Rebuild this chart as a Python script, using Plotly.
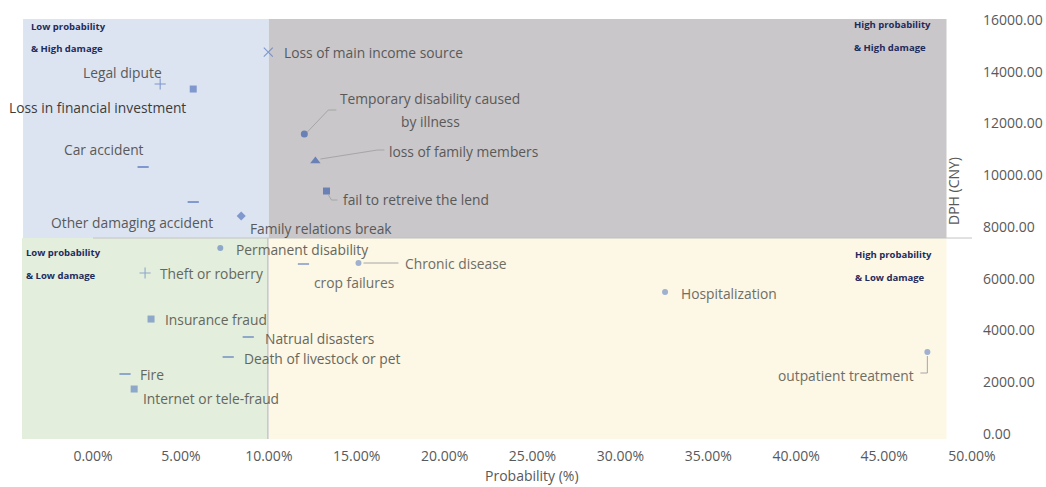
import plotly.graph_objects as go

# ---------------- data ----------------
risk_names = [
    "Loss of main income source", "Legal dipute", "Loss in financial investment",
    "Car accident", "Other damaging accident", "Family relations break",
    "Temporary disability caused<br>by illness", "loss of family members",
    "fail to retreive the lend", "Permanent disability", "Theft or roberry",
    "crop failures", "Chronic disease", "Hospitalization", "outpatient treatment",
    "Insurance fraud", "Natrual disasters", "Death of livestock or pet", "Fire",
    "Internet or tele-fraud",
]
probability = [
    0.0997, 0.0382, 0.0570, 0.0285, 0.0570, 0.0843, 0.1202, 0.1265, 0.1328,
    0.0724, 0.0296, 0.1197, 0.1510, 0.3254, 0.4746, 0.0330, 0.0883, 0.0769,
    0.0182, 0.0234,
]
dph_cny = [
    14763, 13527, 13333, 10319, 8966, 8425, 11594, 10551, 9391,
    7188, 6222, 6570, 6609, 5488, 3169, 4444, 3749, 2976, 2319, 1739,
]
x_ticks = [0, 0.05, 0.10, 0.15, 0.20, 0.25, 0.30, 0.35, 0.40, 0.45, 0.50]
y_ticks = [0, 2000, 4000, 6000, 8000, 10000, 12000, 14000, 16000]
quadrant_titles = [
    "Low probability", "& High damage", "High probability", "& High damage",
    "Low probability", "& Low damage", "High probability", "& Low damage",
]
DIV_X = 0.10
DIV_Y = 7575

# ---------------- styling / layout ----------------
W, H = 1046, 487
ML, MR, MT, MB = 22, 74, 19, 48
X_RANGE = [-0.0404, 0.5]
Y_RANGE = [-193, 16040]
Q_RIGHT = 0.4855
FONT = "Open Sans"
LABEL_SIZE = 13.8

symbols = [
    "x-thin-open", "cross-thin-open", "square", "line-ew-open", "line-ew-open",
    "diamond", "circle", "triangle-up", "square", "circle", "cross-thin-open",
    "line-ew-open", "circle", "circle", "circle", "square", "line-ew-open",
    "line-ew-open", "line-ew-open", "square",
]
sizes = [9, 8, 7, 8, 8, 7, 7, 9, 7, 6, 8, 8, 6, 6, 6, 7, 8, 8, 8, 7]

# label placement: (anchor, dx px, dy px (down positive))
label_pos = [
    ("left", 14, 0), ("center", -38, -12), ("right", -5, 18), ("center", -39, -18),
    ("right", 22, 20), ("left", 7, 12), ("center", 126, -24), ("left", 72, -10),
    ("left", 15, 8), ("left", 14, 1), ("left", 13, 0), ("left", 9, 18),
    ("left", 45, 0), ("left", 14, 1), ("right", -11, 23), ("left", 12, 0),
    ("left", 15, 1), ("left", 14, 1), ("left", 13, 0), ("left", 7, 9),
]
# leader line paths (pixels relative to the marker, y up)
leaders = {
    6: "M 3,2 L 24,24 L 32,24",
    7: "M 5,2 L 62,11 L 69,11",
    8: "M 2,-4 L 5,-9 L 11,-9",
    12: "M 5,0 L 40,0",
    14: "M 0,-4 L 0,-21 L -7,-21",
}


def quadrant(x, y):
    if y >= DIV_Y:
        return "TL" if x < DIV_X else "TR"
    return "BL" if x < DIV_X else "BR"


marker_col = {"TL": "#5878BE", "TR": "#4264AC", "BL": "#6A8AC2", "BR": "#7893C6"}
text_col = {"TL": "#595959", "TR": "#595959", "BL": "#66675C", "BR": "#6E6E64"}

quads = [quadrant(x, y) for x, y in zip(probability, dph_cny)]
mcolors = [marker_col[q] for q in quads]
lwidths = []
for s in symbols:
    if s in ("x-thin-open", "cross-thin-open"):
        lwidths.append(1.1)
    elif s.endswith("open"):
        lwidths.append(2)
    else:
        lwidths.append(0)

fig = go.Figure()
fig.add_trace(go.Scatter(
    x=probability, y=dph_cny, mode="markers", text=risk_names, hoverinfo="text",
    marker=dict(symbol=symbols, size=sizes, color=mcolors,
                line=dict(color=mcolors, width=lwidths)),
    showlegend=False,
))

shapes = []
# quadrant backgrounds
shapes += [
    dict(type="rect", xref="x", yref="y", x0=X_RANGE[0] + 0.0006, x1=DIV_X, y0=DIV_Y, y1=Y_RANGE[1] + 60,
         fillcolor="#DCE4F2", line_width=0, layer="below"),
    dict(type="rect", xref="x", yref="y", x0=DIV_X, x1=Q_RIGHT, y0=DIV_Y, y1=Y_RANGE[1],
         fillcolor="#C9C7C9", line_width=0, layer="below"),
    dict(type="rect", xref="x", yref="y", x0=X_RANGE[0], x1=DIV_X - 0.0005, y0=Y_RANGE[0], y1=DIV_Y,
         fillcolor="#E3EEDC", line_width=0, layer="below"),
    dict(type="rect", xref="x", yref="y", x0=DIV_X, x1=Q_RIGHT, y0=Y_RANGE[0], y1=DIV_Y,
         fillcolor="#FDF7E6", line_width=0, layer="below"),
    dict(type="line", xref="x", yref="y", x0=DIV_X - 0.0005, x1=DIV_X - 0.0005, y0=Y_RANGE[0], y1=DIV_Y,
         line=dict(color="#AFAFAF", width=1), layer="below"),
    dict(type="line", xref="x", yref="y", x0=0.0, x1=0.5, y0=DIV_Y, y1=DIV_Y,
         line=dict(color="#C4C4C4", width=1), layer="below"),
]
for i, path in leaders.items():
    shapes.append(dict(type="path", xref="x", yref="y", xsizemode="pixel", ysizemode="pixel",
                       xanchor=probability[i], yanchor=dph_cny[i], path=path,
                       line=dict(color="#A6A6A6", width=1)))

annotations = []
for i, name in enumerate(risk_names):
    anchor, dx, dy = label_pos[i]
    lines = name.split("<br>")
    n = len(lines)
    col = text_col[quads[i]]
    if i == 2:
        col = "#3C3C3C"
    for k, ln in enumerate(lines):
        off = dy + (k - (n - 1) / 2) * 23
        annotations.append(dict(
            x=probability[i], y=dph_cny[i], xref="x", yref="y", text=ln,
            showarrow=False, xanchor=anchor, yanchor="middle",
            xshift=dx, yshift=-off,
            font=dict(family=FONT, size=LABEL_SIZE, color=col),
        ))


def paper(px, py):
    return (px - ML) / (W - ML - MR), (H - MB - py) / (H - MT - MB)


q_pos = [(29, 26), (29, 49), (852, 25), (852, 48), (24, 252), (24, 275), (853, 254), (853, 277)]
for t, (px, py) in zip(quadrant_titles, q_pos):
    xp, yp = paper(px, py)
    annotations.append(dict(x=xp, y=yp, xref="paper", yref="paper", text="<b>%s</b>" % t,
                            showarrow=False, xanchor="left", yanchor="middle",
                            font=dict(family=FONT, size=9.5, color="#1F2B5B")))

xp, yp = paper(532, 476)
annotations.append(dict(x=xp, y=yp, xref="paper", yref="paper", text="Probability (%)",
                        showarrow=False, xanchor="center", yanchor="middle", borderpad=0,
                        font=dict(family=FONT, size=14, color="#595959")))
xp, yp = paper(953, 191)
annotations.append(dict(x=xp, y=yp, xref="paper", yref="paper", text="DPH (CNY)", textangle=-90,
                        showarrow=False, xanchor="center", yanchor="middle",
                        font=dict(family=FONT, size=14, color="#595959")))

fig.update_layout(
    width=W, height=H, margin=dict(l=ML, r=MR, t=MT, b=MB, autoexpand=False),
    paper_bgcolor="white", plot_bgcolor="white",
    shapes=shapes, annotations=annotations,
    xaxis=dict(range=X_RANGE, tickvals=x_ticks, tickformat=".2%", showgrid=False,
               zeroline=False, showline=False, ticks="", automargin=False,
               ticklabelstandoff=7,
               tickfont=dict(family=FONT, size=14, color="#595959")),
    yaxis=dict(range=Y_RANGE, tickvals=y_ticks, tickformat=".2f", side="right",
               showgrid=False, zeroline=False, showline=False, ticks="", automargin=False,
               ticklabelstandoff=10,
               tickfont=dict(family=FONT, size=14, color="#595959")),
)

fig.write_html("out.html")
